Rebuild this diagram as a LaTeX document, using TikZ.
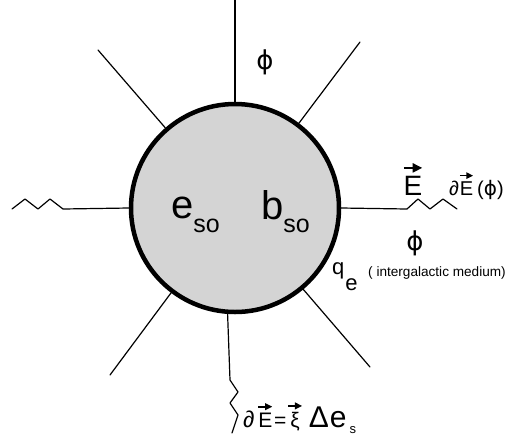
\documentclass[tikz,border=0pt]{standalone}
\usepackage{fontspec}
\setmainfont{Liberation Sans}
\newfontfamily\phifont{DejaVu Sans}
\usetikzlibrary{arrows.meta}
\definecolor{ballgray}{gray}{0.83}
% arrow set over a letter
\newcommand\varr[1]{\leavevmode\vbox{\offinterlineskip\halign{\hfil##\hfil\cr
	\tikz\draw[line width=.08em,-{Triangle[length=.34em,width=.32em]}] (0,0)--(.66em,0);\cr
	\noalign{\kern.12em}#1\cr}}}
\newcommand\fs[1]{\fontsize{#1}{#1}\selectfont}
\newcommand\phis{{\phifont ϕ}}

\begin{document}
\begin{tikzpicture}[x=1pt, y=-1pt, line join=round, line cap=round,
		ball/.style={circle, draw, line width=4.5pt, fill=ballgray, minimum size=208pt, inner sep=0pt},
		ray/.style={line width=1.2pt},
		lbl/.style={inner sep=0pt}]
	\useasboundingbox (0,0) rectangle (508,440);
	\node[ball] (ball) at (235,208) {};
	% free ends of the rays
	\coordinate (top) at (235,0);
	\coordinate (ul) at (98,50);
	\coordinate (ur) at (360,42);
	\coordinate (ll) at (110,375);
	\coordinate (lr) at (370,367);
	\draw[ray] (ball.90) -- (top);
	\draw[ray] (ball.131) -- (ul);
	\draw[ray] (ball.53) -- (ur);
	\draw[ray] (ball.233) -- (ll);
	\draw[ray] (ball.310) -- (lr);
	% zigzag rays
	\draw[ray] (ball.west) -- (63,209) -- (50,199) -- (38,209) -- (25,199) -- (12,209);
	\draw[ray] (ball.east) -- (407,209) -- (418,199) -- (430,209) -- (443,199) -- (457,209);
	\draw[ray] (ball.266) -- (230,380) -- (238,392) -- (230,403) -- (238,415) -- (232,433);
	% labels
	\node[lbl, font=\fs{26}] (phitop) at (265,62) {\phis};
	\node[lbl, anchor=base west, font=\fs{40}] (eso) at (171,218) {e\raisebox{-14pt}{\fs{25}so}};
	\node[lbl, anchor=base west, font=\fs{40}] (bso) at (261,219) {b\raisebox{-13pt}{\fs{25}so}};
	\node[lbl, anchor=base, font=\fs{28}] (Evec) at (413,195) {\varr{E}};
	\node[lbl, anchor=base west, font=\fs{20}] (dEphi) at (449,195) {∂\varr{E}\,(\phis)};
	\node[lbl, font=\fs{26}] (phiright) at (415,243) {\phis};
	\node[lbl, anchor=base west, font=\fs{22}] (qe) at (332,274) {q\kern1pt\raisebox{-16pt}{\fs{22}e}};
	\node[lbl, anchor=base west, font=\fs{13.6}] (medium) at (368,276) {( intergalactic medium)};
	\node[lbl, anchor=base west, font=\fs{21}] (dE) at (243,427) {{\fs{23}∂}\kern3pt\varr{E}\kern1pt=\kern1pt\varr{ξ}\kern6pt{\fs{30}Δ}\kern1pt{\fs{30}e}\kern3pt\raisebox{-6pt}{\fs{13}s}};
\end{tikzpicture}
\end{document}
